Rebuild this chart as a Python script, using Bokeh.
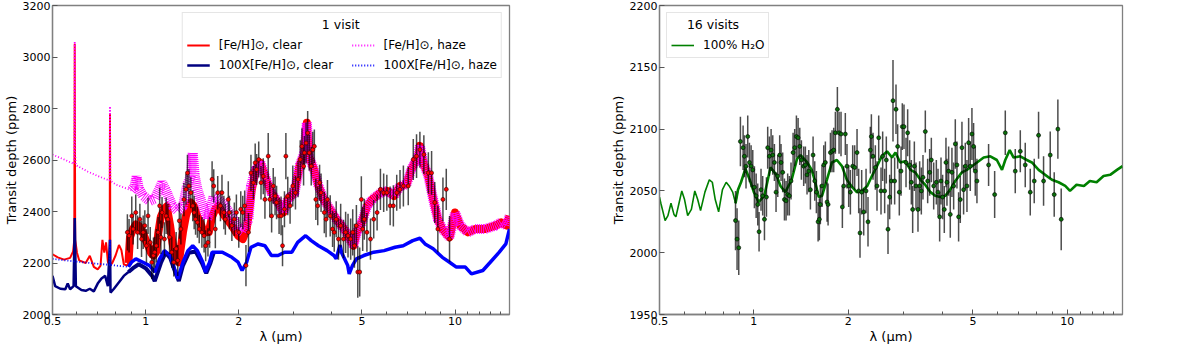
import numpy as np
from bokeh.plotting import figure
from bokeh.models import (Range1d, FixedTicker, CustomJSTickFormatter, Legend,
                          LegendItem)
from bokeh.layouts import row
from bokeh.embed import file_html
from bokeh.resources import INLINE

FONT = "DejaVu Sans"
NB = "\u00a0"

# ---------------- Left panel: 1 visit ----------------
solar_clear_wl = [0.50, 0.52, 0.545, 0.57, 0.583, 0.588, 0.590, 0.592, 0.60, 0.61, 0.64, 0.66, 0.68,
                  0.70, 0.715, 0.725, 0.735, 0.745, 0.755, 0.765, 0.767, 0.769, 0.78, 0.80, 0.82,
                  0.835, 0.85, 0.87, 0.88, 0.89, 0.91, 0.93, 0.95, 0.98, 1.0, 1.02, 1.04, 1.06,
                  1.08, 1.10, 1.12, 1.15, 1.17, 1.20, 1.22, 1.25, 1.28, 1.30, 1.32, 1.35, 1.38,
                  1.40, 1.43, 1.47, 1.50, 1.53, 1.56, 1.60, 1.64, 1.68, 1.72, 1.80, 1.90, 1.99,
                  2.06, 2.12, 2.17, 2.20, 2.27, 2.35, 2.43, 2.55, 2.68, 2.79, 2.88, 3.03, 3.14,
                  3.26, 3.32, 3.37, 3.50, 3.62, 3.76, 3.94, 4.13, 4.38, 4.58, 4.70, 4.81, 5.0,
                  5.2, 5.4, 5.75, 6.05, 6.35, 6.64, 6.97, 7.22, 7.60, 7.70, 7.90, 8.2, 8.5, 8.8,
                  9.1, 9.6, 9.9, 10.0, 10.4, 11.0, 11.6, 12.5, 13.5, 14.1, 14.7, 15.0]
solar_clear_td = [2234, 2222, 2213, 2220, 2245, 2290, 3050, 2290, 2240, 2210, 2200, 2228, 2185,
                  2175, 2190, 2290, 2240, 2280, 2205, 2190, 2780, 2190, 2200, 2230, 2270,
                  2250, 2195, 2190, 2200, 2300, 2332, 2350, 2345, 2319, 2290, 2267, 2240, 2229,
                  2242, 2320, 2380, 2410, 2420, 2345, 2280, 2216, 2203, 2260, 2319, 2383, 2420,
                  2435, 2422, 2380, 2360, 2330, 2319, 2320, 2380, 2410, 2422, 2383, 2345, 2306,
                  2293, 2330, 2420, 2480, 2563, 2589, 2537, 2473, 2435, 2396, 2447, 2473, 2576,
                  2628, 2745, 2615, 2563, 2499, 2447, 2409, 2370, 2332, 2293, 2267, 2319, 2358,
                  2422, 2447, 2473, 2480, 2460, 2499, 2505, 2563, 2615, 2655, 2589, 2537, 2447, 2370,
                  2332, 2300, 2370, 2396, 2345, 2319, 2332, 2332, 2345, 2358, 2345, 2383]

solar_haze_wl = [0.50, 0.55, 0.585, 0.588, 0.590, 0.592, 0.595, 0.65, 0.70, 0.765, 0.767, 0.769,
                 0.80, 0.85, 0.90, 0.92, 0.935, 0.95, 0.98, 1.03, 1.07, 1.10, 1.13, 1.16, 1.22,
                 1.27, 1.32, 1.36, 1.40, 1.42, 1.44, 1.47, 1.53, 1.58, 1.62, 1.66, 1.72, 1.80,
                 1.90, 1.99, 2.06, 2.15, 2.19, 2.27, 2.35, 2.43, 2.55, 2.68, 2.79, 2.88, 3.03,
                 3.14, 3.26, 3.32, 3.37, 3.50, 3.62, 3.76, 3.94, 4.13, 4.38, 4.58, 4.70, 4.81,
                 5.0, 5.2, 5.4, 5.75, 6.05, 6.35, 6.64, 6.97, 7.22, 7.60, 7.70, 7.90, 8.2, 8.5,
                 8.8, 9.1, 9.6, 9.9, 10.0, 10.4, 11.0, 11.6, 12.5, 13.5, 14.1, 14.7, 15.0]
solar_haze_td = [2621, 2600, 2585, 2620, 3060, 2620, 2580, 2555, 2538, 2520, 2808, 2520,
                 2505, 2493, 2482, 2495, 2535, 2490, 2462, 2441, 2450, 2480, 2512, 2485, 2422,
                 2402, 2420, 2499, 2540, 2628, 2540, 2486, 2422, 2370, 2409, 2460, 2447, 2422,
                 2383, 2332, 2319, 2370, 2499, 2563, 2589, 2537, 2473, 2435, 2396, 2447, 2473,
                 2576, 2628, 2745, 2615, 2563, 2499, 2447, 2409, 2370, 2332, 2293, 2267, 2319,
                 2358, 2422, 2447, 2473, 2480, 2460, 2499, 2505, 2563, 2615, 2655, 2589, 2537, 2447,
                 2370, 2332, 2300, 2370, 2396, 2345, 2319, 2332, 2332, 2345, 2358, 2345, 2383]

x100_clear_wl = [0.50, 0.51, 0.53, 0.55, 0.56, 0.57, 0.585, 0.590, 0.595, 0.62, 0.64, 0.66, 0.68,
                 0.70, 0.72, 0.74, 0.755, 0.767, 0.77, 0.79, 0.82, 0.85, 0.88, 0.91, 0.95, 1.0,
                 1.05, 1.07, 1.12, 1.16, 1.20, 1.25, 1.28, 1.32, 1.38, 1.45, 1.52, 1.57, 1.62, 1.66]
x100_clear_td = [2150, 2110, 2100, 2098, 2120, 2098, 2110, 2375, 2110, 2095, 2092, 2100, 2090,
                 2120, 2140, 2150, 2110, 2290, 2085, 2100, 2125, 2150, 2165, 2180, 2195, 2180,
                 2150, 2130, 2200, 2240, 2220, 2160, 2130, 2190, 2240, 2245, 2200, 2160, 2200, 2240]

x100_haze_wl = [0.50, 0.60, 0.70, 0.765, 0.767, 0.769, 0.80, 0.88, 0.90, 0.93, 0.98, 1.03, 1.07,
                1.11, 1.15, 1.20, 1.24, 1.27, 1.32, 1.37, 1.42, 1.47, 1.53, 1.56, 1.61, 1.64,
                1.77, 1.90, 1.99, 2.05, 2.12, 2.19, 2.31, 2.43, 2.55, 2.68, 2.81, 2.97, 3.10,
                3.29, 3.43, 3.62, 3.86, 4.06, 4.13, 4.25, 4.30, 4.50, 4.55, 4.66, 4.80, 5.07,
                5.46, 5.9, 6.4, 6.8, 7.3, 7.7, 8.0, 8.5, 9.1, 9.6, 10.1, 10.8, 11.3, 12.3, 13.0,
                13.9, 14.6, 15.0]
x100_haze_td = [2216, 2205, 2197, 2193, 2290, 2193, 2190, 2185, 2203, 2216, 2203, 2190, 2165,
                2216, 2248, 2229, 2177, 2139, 2203, 2248, 2267, 2248, 2203, 2165, 2203, 2242,
                2242, 2222, 2203, 2171, 2203, 2261, 2274, 2267, 2229, 2229, 2242, 2242, 2280,
                2306, 2287, 2267, 2248, 2229, 2216, 2270, 2240, 2190, 2158, 2190, 2216, 2229,
                2242, 2248, 2261, 2267, 2287, 2296, 2274, 2255, 2222, 2203, 2184, 2184, 2158, 2171, 2203,
                2242, 2274, 2332]

obs1_wl = [0.873, 0.884, 0.902, 0.911, 0.929, 0.942, 0.958, 0.970, 0.982, 0.994,
           1.006, 1.018, 1.035, 1.047, 1.060, 1.070, 1.083, 1.097, 1.110, 1.120,
           1.130, 1.150, 1.165, 1.180, 1.195, 1.215, 1.233, 1.255, 1.270, 1.285,
           1.300, 1.330, 1.350, 1.365, 1.380, 1.400, 1.420, 1.435, 1.450, 1.470,
           1.490, 1.520, 1.545, 1.563, 1.590, 1.610, 1.640, 1.660, 1.680, 1.710,
           1.745, 1.765, 1.790, 1.810, 1.850, 1.865, 1.900, 1.935, 1.965, 2.000,
           2.030, 2.060, 2.090, 2.110, 2.150, 2.190, 2.230, 2.260, 2.285, 2.320,
           2.360, 2.400, 2.430, 2.490, 2.520, 2.554, 2.585, 2.620, 2.650, 2.700,
           2.740, 2.770, 2.810, 2.840, 2.880, 2.930, 2.990, 3.050, 3.110, 3.160,
           3.200, 3.240, 3.260, 3.300, 3.340, 3.380, 3.430, 3.470, 3.510, 3.550,
           3.600, 3.650, 3.690, 3.780, 3.830, 3.870, 3.950, 4.020, 4.070, 4.130,
           4.200, 4.270, 4.360, 4.430, 4.510, 4.600, 4.670, 4.730, 4.800, 4.850,
           4.920, 4.980, 5.030, 5.090, 5.190, 5.330, 5.460, 5.600, 5.740, 5.880,
           6.020, 6.170, 6.320, 6.480, 6.640, 6.810, 7.060, 7.330, 7.510, 7.700,
           7.930, 8.200, 8.400, 8.600, 8.800, 9.140, 9.370, 9.600]
obs1_td = [2319, 2306, 2383, 2332, 2396, 2319, 2370, 2293, 2319, 2345,
           2267, 2383, 2280, 2203, 2229, 2242, 2267, 2319, 2422, 2300,
           2396, 2293, 2383, 2370, 2300, 2242, 2203, 2255, 2210, 2364,
           2332, 2447, 2486, 2550, 2499, 2473, 2422, 2396, 2370, 2358,
           2332, 2319, 2306, 2267, 2280, 2319, 2525, 2499, 2332, 2473,
           2422, 2473, 2396, 2370, 2447, 2396, 2345, 2370, 2396, 2319,
           2409, 2396, 2422, 2190, 2319, 2550, 2512, 2589, 2563, 2602,
           2512, 2537, 2447, 2615, 2447, 2383, 2499, 2460, 2435, 2383,
           2383, 2267, 2409, 2615, 2460, 2422, 2499, 2473, 2525, 2602,
           2653, 2576, 2628, 2666, 2705, 2628, 2576, 2640, 2653, 2447,
           2422, 2512, 2473, 2396, 2370, 2447, 2383, 2332, 2319, 2370,
           2293, 2345, 2293, 2319, 2306, 2293, 2319, 2267, 2345, 2165,
           2165, 2447, 2332, 2370, 2319, 2293, 2370, 2396, 2486, 2473,
           2473, 2422, 2422, 2473, 2486, 2499, 2499, 2602, 2615, 2640,
           2621, 2550, 2550, 2435, 2332, 2447, 2486, 2293]
obs1_err = [70, 65, 75, 60, 70, 65, 60, 70, 65, 60,
            65, 70, 60, 65, 70, 60, 65, 60, 70, 65,
            60, 65, 70, 60, 65, 60, 55, 65, 60, 70,
            60, 65, 60, 70, 65, 60, 60, 65, 60, 60,
            55, 60, 65, 60, 55, 60, 70, 65, 75, 65,
            60, 70, 65, 60, 70, 65, 60, 65, 70, 60,
            70, 65, 60, 80, 75, 70, 65, 75, 60, 70,
            65, 70, 75, 90, 70, 65, 70, 75, 65, 70,
            75, 80, 70, 90, 75, 70, 80, 65, 70, 75,
            70, 75, 65, 80, 85, 70, 75, 70, 65, 80,
            75, 70, 75, 80, 70, 75, 80, 70, 75, 70,
            80, 85, 75, 80, 85, 80, 90, 85, 80, 100,
            95, 90, 85, 80, 75, 80, 75, 70, 80, 75,
            70, 75, 80, 70, 75, 80, 75, 80, 85, 70,
            75, 80, 85, 80, 90, 85, 80, 90]

# ---------------- Right panel: 16 visits ----------------
water_wl = [0.500, 0.505, 0.513, 0.521, 0.532, 0.544, 0.556, 0.564, 0.577, 0.589, 0.601, 0.615,
            0.632, 0.648, 0.662, 0.676, 0.698, 0.721, 0.737, 0.753, 0.772, 0.794, 0.816, 0.834,
            0.856, 0.874, 0.89, 0.91, 0.94, 0.97, 1.0, 1.035, 1.08, 1.13, 1.18, 1.216, 1.26,
            1.32, 1.374, 1.41, 1.48, 1.53, 1.57, 1.61, 1.65, 1.71, 1.775, 1.84, 1.91, 1.98,
            2.06, 2.13, 2.21, 2.30, 2.38, 2.47, 2.56, 2.66, 2.76, 2.83, 2.93, 3.04, 3.16,
            3.27, 3.40, 3.52, 3.66, 3.79, 3.93, 4.08, 4.23, 4.39, 4.61, 4.78, 4.96, 5.15,
            5.41, 5.68, 5.96, 6.19, 6.34, 6.55, 6.74, 7.08, 7.43, 7.71, 8.10, 8.50, 8.93,
            9.38, 9.85, 10.2, 10.7, 11.3, 11.8, 12.4, 13.05, 13.7, 14.4, 15.0]
water_td = [2045, 2040, 2033, 2026, 2030, 2040, 2031, 2029, 2040, 2050, 2043, 2030,
            2035, 2050, 2043, 2034, 2049, 2059, 2057, 2043, 2033, 2051, 2057, 2054,
            2049, 2040, 2051, 2057, 2068, 2059, 2049, 2041, 2046, 2069, 2063, 2054, 2049,
            2059, 2076, 2079, 2073, 2067, 2057, 2045, 2046, 2059, 2073, 2075, 2070, 2059,
            2053, 2049, 2050, 2054, 2062, 2070, 2078, 2082, 2077, 2081, 2073, 2074, 2067,
            2065, 2059, 2055, 2049, 2046, 2045, 2046, 2051, 2058, 2065, 2067, 2070, 2073,
            2077, 2078, 2075, 2067, 2075, 2083, 2077, 2078, 2075, 2073, 2067, 2063, 2059,
            2057, 2054, 2050, 2055, 2054, 2058, 2057, 2062, 2063, 2067, 2070]

obs16_wl = [0.874, 0.884, 0.895, 0.906, 0.924, 0.933, 0.944, 0.956, 0.968, 0.980,
            0.992, 1.004, 1.017, 1.029, 1.039, 1.054, 1.067, 1.081, 1.097, 1.107,
            1.121, 1.135, 1.149, 1.163, 1.177, 1.192, 1.209, 1.221, 1.236, 1.252,
            1.267, 1.282, 1.298, 1.314, 1.334, 1.350, 1.367, 1.384, 1.401, 1.418,
            1.442, 1.460, 1.478, 1.497, 1.515, 1.545, 1.564, 1.583, 1.603, 1.618,
            1.630, 1.650, 1.671, 1.691, 1.712, 1.725, 1.755, 1.776, 1.798, 1.820,
            1.847, 1.870, 1.897, 1.916, 1.935, 1.958, 1.982, 2.007, 2.032, 2.067,
            2.097, 2.134, 2.160, 2.181, 2.208, 2.241, 2.280, 2.313, 2.353, 2.371,
            2.400, 2.441, 2.471, 2.502, 2.545, 2.576, 2.614, 2.646, 2.679, 2.712,
            2.745, 2.779, 2.813, 2.841, 2.876, 2.911, 2.948, 2.976, 3.013, 3.058,
            3.095, 3.141, 3.180, 3.211, 3.251, 3.291, 3.339, 3.380, 3.422, 3.464,
            3.524, 3.585, 3.638, 3.683, 3.747, 3.821, 3.868, 3.915, 3.954, 4.002,
            4.051, 4.101, 4.131, 4.182, 4.233, 4.285, 4.339, 4.392, 4.446, 4.500,
            4.556, 4.612, 4.668, 4.727, 4.785, 4.844, 4.903, 4.963, 5.024, 5.086,
            5.149, 5.609, 5.864, 6.341, 6.823, 7.080, 7.342, 7.617, 7.843, 8.097,
            8.400, 8.821, 9.083, 9.330, 9.562]
obs16_td = [2026, 2011, 2004, 2090, 2085, 2078, 2070, 2094, 2073, 2070,
            2067, 2053, 2046, 2039, 2017, 2051, 2046, 2027, 2045, 2085,
            2078, 2083, 2079, 2073, 2049, 2062, 2079, 2073, 2065, 2043,
            2042, 2047, 2046, 2058, 2081, 2085, 2094, 2093, 2086, 2075,
            2070, 2071, 2063, 2066, 2051, 2079, 2058, 2049, 2025, 2027,
            2039, 2054, 2071, 2073, 2041, 2039, 2081, 2082, 2083, 2097,
            2116, 2097, 2096, 2037, 2054, 2096, 2070, 2054, 2049, 2070,
            2069, 2081, 2050, 2016, 2049, 2033, 2050, 2025, 2083, 2094,
            2078, 2069, 2054, 2093, 2050, 2078, 2050, 2075, 2019, 2045,
            2058, 2123, 2058, 2116, 2086, 2049, 2066, 2102, 2102, 2073,
            2097, 2071, 2057, 2035, 2070, 2054, 2035, 2054, 2050, 2061,
            2098, 2058, 2065, 2075, 2054, 2057, 2049, 2029, 2058, 2045,
            2035, 2073, 2057, 2066, 2031, 2065, 2054, 2088, 2071, 2029,
            2043, 2085, 2051, 2070, 2054, 2089, 2070, 2096, 2086, 2066,
            2058, 2071, 2047, 2097, 2066, 2082, 2071, 2049, 2058, 2095,
            2058, 2079, 2047, 2100, 2027]
obs16_err = [24, 25, 22, 20, 18, 17, 18, 17, 16, 17,
             16, 17, 18, 17, 16, 17, 16, 17, 16, 17,
             16, 17, 16, 15, 16, 17, 16, 15, 16, 17,
             16, 17, 16, 15, 16, 15, 17, 16, 15, 16,
             16, 15, 16, 17, 16, 15, 16, 17, 16, 17,
             16, 17, 16, 17, 16, 17, 16, 17, 18, 17,
             18, 17, 18, 17, 16, 17, 18, 17, 18, 17,
             18, 19, 18, 20, 18, 19, 18, 20, 19, 18,
             19, 18, 20, 18, 19, 20, 18, 19, 20, 18,
             19, 33, 19, 20, 18, 19, 20, 19, 18, 20,
             19, 20, 18, 19, 20, 19, 18, 20, 19, 18,
             17, 18, 19, 18, 19, 18, 19, 20, 19, 18,
             19, 20, 19, 20, 19, 20, 19, 20, 19, 20,
             19, 21, 20, 19, 21, 20, 20, 21, 19, 20,
             18, 17, 19, 18, 18, 17, 18, 19, 18, 19,
             20, 19, 18, 24, 25]

x_major = [0.5, 1, 2, 5, 10]
x_minor = [0.6, 0.7, 0.8, 0.9, 3, 4, 6, 7, 8, 9, 11, 12, 13, 14]
y_ticks_left = [2000, 2200, 2400, 2600, 2800, 3000, 3200]
y_ticks_right = [1950, 2000, 2050, 2100, 2150, 2200]


def part(wl, td, lo, hi):
    w = np.asarray(wl, dtype=float)
    t = np.asarray(td, dtype=float)
    m = (w >= lo) & (w <= hi)
    return w[m], t[m]


def style(p, yticks):
    p.xaxis.ticker = FixedTicker(ticks=x_major, minor_ticks=x_minor)
    p.xaxis.formatter = CustomJSTickFormatter(code="return tick.toString()")
    p.yaxis.ticker = FixedTicker(ticks=yticks, minor_ticks=[])
    for ax in (p.xaxis[0], p.yaxis[0]):
        ax.major_tick_in = 5
        ax.major_tick_out = 0
        ax.minor_tick_in = 3
        ax.minor_tick_out = 0
        ax.major_tick_line_color = "#555555"
        ax.minor_tick_line_color = "#555555"
        ax.axis_line_color = "#808080"
        ax.axis_line_width = 1.3
        ax.major_label_text_font = FONT
        ax.major_label_text_font_size = "11px"
        ax.major_label_text_color = "black"
        ax.major_label_standoff = 2
        ax.axis_label_text_font = FONT
        ax.axis_label_text_font_size = "13px"
        ax.axis_label_text_font_style = "normal"
        ax.axis_label_text_color = "black"
        ax.axis_label_standoff = 1
    p.xaxis.axis_label = "λ (μm)"
    p.yaxis.axis_label = "Transit depth (ppm)"
    p.outline_line_color = "#808080"
    p.outline_line_width = 1.3
    p.grid.visible = False
    p.background_fill_color = "white"


FH = 309

# ---------- left figure ----------
p1 = figure(x_axis_type="log", x_range=Range1d(0.5, 15.0), y_range=Range1d(2000, 3200),
            frame_width=457, frame_height=FH, min_border_left=10, min_border_right=60,
            min_border_top=5, min_border_bottom=0, output_backend="svg", toolbar_location=None)
style(p1, y_ticks_left)

w, t = part(solar_clear_wl, solar_clear_td, 0, 0.89)
r_red = p1.line(w, t, color="red", line_width=2)
w, t = part(solar_clear_wl, solar_clear_td, 0.88, 20)
p1.line(w, t, color="red", line_width=8, line_join="round")

w, t = part(x100_clear_wl, x100_clear_td, 0, 0.91)
r_navy = p1.line(w, t, color="navy", line_width=2.5)
w, t = part(x100_clear_wl, x100_clear_td, 0.88, 20)
p1.line(w, t, color="navy", line_width=4)

w, t = part(solar_haze_wl, solar_haze_td, 0, 0.90)
r_mag = p1.line(w, t, color="magenta", line_width=1.8, line_dash="1 2")
w, t = part(solar_haze_wl, solar_haze_td, 0.90, 20)
p1.line(w, t, color="magenta", line_width=10, line_dash="1 1")

w, t = part(x100_haze_wl, x100_haze_td, 0, 0.90)
r_blue = p1.line(w, t, color="blue", line_width=1.8, line_dash="1 2")
w, t = part(x100_haze_wl, x100_haze_td, 0.88, 20)
p1.line(w, t, color="blue", line_width=3.5)

ow = np.asarray(obs1_wl)
ot = np.asarray(obs1_td, dtype=float)
oe = np.asarray(obs1_err, dtype=float)
p1.segment(ow, ot - oe, ow, ot + oe, color="black", alpha=0.7, line_width=1.5)
p1.scatter(ow, ot, size=4, fill_color="red", line_color="#330000", line_width=0.6)

leg1 = Legend(items=[LegendItem(label="[Fe/H]⊙, clear", renderers=[r_red]),
                     LegendItem(label="100X[Fe/H]⊙, clear" + NB * 4, renderers=[r_navy]),
                     LegendItem(label="[Fe/H]⊙, haze", renderers=[r_mag]),
                     LegendItem(label="100X[Fe/H]⊙, haze", renderers=[r_blue])],
              location="top_right", ncols=2, title=NB * 34 + "1 visit")
p1.add_layout(leg1)

# ---------- right figure ----------
p2 = figure(x_axis_type="log", x_range=Range1d(0.5, 15.0), y_range=Range1d(1950, 2200),
            frame_width=463, frame_height=FH, min_border_left=90, min_border_right=10,
            min_border_top=5, min_border_bottom=0, output_backend="svg", toolbar_location=None)
style(p2, y_ticks_right)

w, t = part(water_wl, water_td, 0, 0.90)
r_green = p2.line(w, t, color="green", line_width=1.6)
w, t = part(water_wl, water_td, 0.874, 20)
p2.line(w, t, color="green", line_width=2.6)

gw = np.asarray(obs16_wl)
gt = np.asarray(obs16_td, dtype=float)
ge = np.asarray(obs16_err, dtype=float)
p2.segment(gw, gt - ge, gw, gt + ge, color="black", alpha=0.7, line_width=1.5)
p2.scatter(gw, gt, size=4, fill_color="#0a6e0a", line_color="black", line_width=0.6)

leg2 = Legend(items=[LegendItem(label="100% H₂O", renderers=[r_green])],
              location="top_left", title=NB * 4 + "16 visits")
p2.add_layout(leg2)

for leg in (leg1, leg2):
    leg.label_text_font = FONT
    leg.label_text_font_size = "12px"
    leg.title_text_font = FONT
    leg.title_text_font_size = "12.5px"
    leg.title_text_font_style = "normal"
    leg.title_text_color = "black"
    leg.label_text_color = "black"
    leg.glyph_width = 23
    leg.glyph_height = 14
    leg.label_standoff = 9
    leg.label_height = 17
    leg.spacing = 3
    leg.padding = 4
    leg.margin = 7
    leg.border_line_color = "#cccccc"
    leg.border_line_width = 1
    leg.background_fill_alpha = 0.85
    leg.title_standoff = 4

layout = row(p1, p2)
open("out.html", "w").write(file_html(layout, INLINE))
